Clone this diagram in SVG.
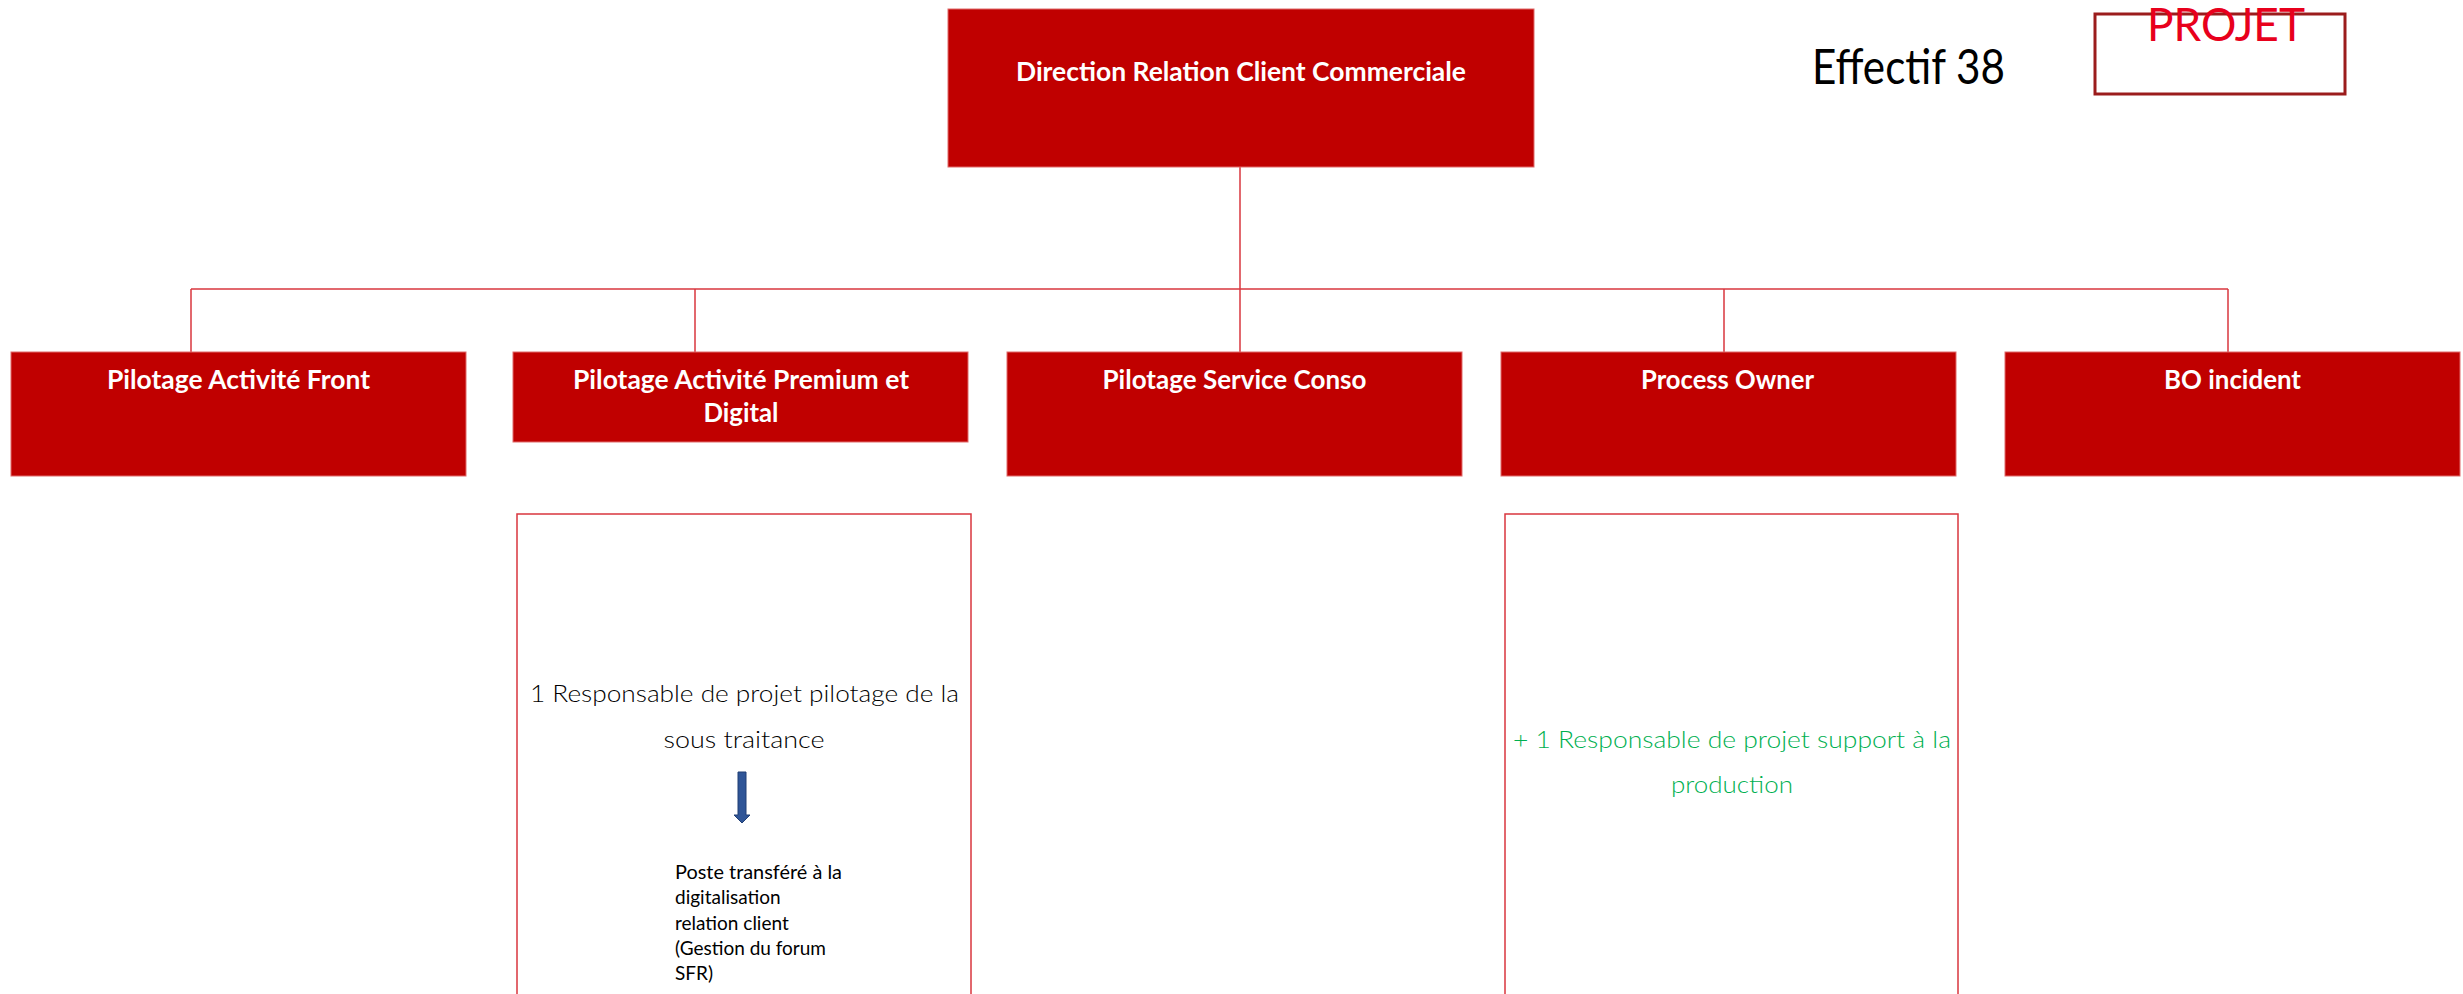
<svg xmlns="http://www.w3.org/2000/svg" width="2463" height="994" viewBox="0 0 2463 994">
<style>
.box{fill:#c00000;stroke:#e06a6a;stroke-width:1}
.lbl{font-family:Lato,"Liberation Sans",sans-serif;font-weight:bold;fill:#ffffff;text-anchor:middle}
.conn{stroke:#d9363e;stroke-width:1.5;fill:none}
.frame{fill:none;stroke:#d9363e;stroke-width:1.5}
.thin{font-family:Lato,"Open Sans","Liberation Sans",sans-serif;font-weight:300;text-anchor:middle}
.note{font-family:Lato,"Liberation Sans",sans-serif;font-size:19px;fill:#000000}
</style>
<rect width="2463" height="994" fill="#ffffff"/>
<g id="connectors">
<line class="conn" x1="1240" y1="167" x2="1240" y2="289"/>
<line class="conn" x1="191" y1="289" x2="2228" y2="289"/>
<line class="conn" x1="191" y1="289" x2="191" y2="352"/>
<line class="conn" x1="695" y1="289" x2="695" y2="352"/>
<line class="conn" x1="1240" y1="289" x2="1240" y2="352"/>
<line class="conn" x1="1724" y1="289" x2="1724" y2="352"/>
<line class="conn" x1="2228" y1="289" x2="2228" y2="352"/>
</g>
<g id="node-direction">
<rect class="box" x="948" y="9" width="586" height="158"/>
<text class="lbl" x="1241" y="81" font-size="27" textLength="450" lengthAdjust="spacingAndGlyphs">Direction Relation Client Commerciale</text>
</g>
<g id="effectif">
<text x="1812" y="84" font-family="Lato,'Liberation Sans',sans-serif" font-size="48" fill="#000000" textLength="193" lengthAdjust="spacingAndGlyphs">Effectif 38</text>
</g>
<g id="projet">
<rect x="2095" y="14" width="250" height="80" fill="none" stroke="#9b1c1c" stroke-width="3"/>
<text x="2226" y="41" font-family="Lato,'Liberation Sans',sans-serif" font-size="46" fill="#e8001c" text-anchor="middle" textLength="158" lengthAdjust="spacingAndGlyphs">PROJET</text>
</g>
<g id="node-front">
<rect class="box" x="11" y="352" width="455" height="124"/>
<text class="lbl" x="238.5" y="389" font-size="26" textLength="263" lengthAdjust="spacingAndGlyphs">Pilotage Activité Front</text>
</g>
<g id="node-premium">
<rect class="box" x="513" y="352" width="455" height="90"/>
<text class="lbl" x="741" y="389" font-size="26" textLength="336" lengthAdjust="spacingAndGlyphs">Pilotage Activité Premium et</text>
<text class="lbl" x="741" y="422" font-size="26" textLength="75" lengthAdjust="spacingAndGlyphs">Digital</text>
</g>
<g id="node-conso">
<rect class="box" x="1007" y="352" width="455" height="124"/>
<text class="lbl" x="1234.5" y="389" font-size="26" textLength="264" lengthAdjust="spacingAndGlyphs">Pilotage Service Conso</text>
</g>
<g id="node-process">
<rect class="box" x="1501" y="352" width="455" height="124"/>
<text class="lbl" x="1727.5" y="389" font-size="26" textLength="173" lengthAdjust="spacingAndGlyphs">Process Owner</text>
</g>
<g id="node-bo">
<rect class="box" x="2005" y="352" width="455" height="124"/>
<text class="lbl" x="2232.5" y="389" font-size="26" textLength="137" lengthAdjust="spacingAndGlyphs">BO incident</text>
</g>
<g id="detail-premium">
<rect class="frame" x="517" y="514" width="454" height="500"/>
<text class="thin" x="744.5" y="702" font-size="24" fill="#000000" textLength="429" lengthAdjust="spacingAndGlyphs">1 Responsable de projet pilotage de la</text>
<text class="thin" x="744" y="748" font-size="24" fill="#000000" textLength="161" lengthAdjust="spacingAndGlyphs">sous traitance</text>
<path d="M738,772 H746 V815 H750 L742,823 L734,815 H738 Z" fill="#2f5597" stroke="#203f75" stroke-width="1"/>
<text class="note" x="675" y="879" textLength="167" lengthAdjust="spacingAndGlyphs">Poste transféré à la</text>
<text class="note" x="675" y="904">digitalisation</text>
<text class="note" x="675" y="930">relation client</text>
<text class="note" x="675" y="955">(Gestion du forum</text>
<text class="note" x="675" y="980">SFR)</text>
</g>
<g id="detail-process">
<rect class="frame" x="1505" y="514" width="453" height="500"/>
<text class="thin" x="1732" y="748" font-size="24" fill="#00b050" textLength="438" lengthAdjust="spacingAndGlyphs">+ 1 Responsable de projet support à la</text>
<text class="thin" x="1732" y="793" font-size="24" fill="#00b050" textLength="122" lengthAdjust="spacingAndGlyphs">production</text>
</g>
</svg>
